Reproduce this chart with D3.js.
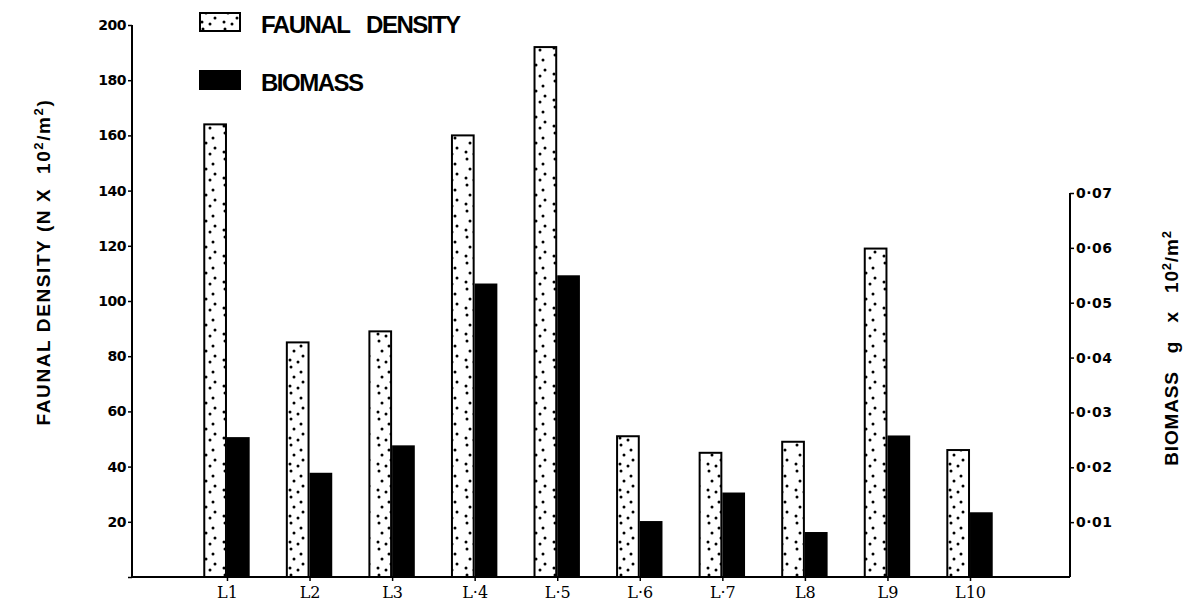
<!DOCTYPE html>
<html>
<head>
<meta charset="utf-8">
<script src="https://cdn.jsdelivr.net/npm/d3@7"></script>
<style>
  body { margin: 0; background: #fff; }
  svg { display: block; }
</style>
</head>
<body>
<div id="chart"></div>
<script>
const stations = ['L1', 'L2', 'L3', 'L4', 'L5', 'L6', 'L7', 'L8', 'L9', 'L10'];
const stationLabels = ['L1', 'L2', 'L3', 'L·4', 'L·5', 'L·6', 'L·7', 'L8', 'L9', 'L10'];
const density = [164, 85, 89, 160, 192, 51, 45, 49, 119, 46];
const biomass = [0.0255, 0.019, 0.024, 0.0535, 0.055, 0.0102, 0.0154, 0.0082, 0.0258, 0.0118];
const leftTicks = [0, 20, 40, 60, 80, 100, 120, 140, 160, 180, 200];
const leftTickLabels = ['', '20', '40', '60', '80', '100', '120', '140', '160', '180', '200'];
const rightTicks = [0.01, 0.02, 0.03, 0.04, 0.05, 0.06, 0.07];
const rightTickLabels = ['0·01', '0·02', '0·03', '0·04', '0·05', '0·06', '0·07'];

const w = 1184;
const h = 603;
const baseY = 577;

const svg = d3.select('#chart')
  .append('svg')
  .attr('width', w)
  .attr('height', h);

// stipple pattern for the density bars
const defs = svg.append('defs');
const pat = defs.append('pattern')
  .attr('id', 'dots')
  .attr('patternUnits', 'userSpaceOnUse')
  .attr('width', 22)
  .attr('height', 26);
pat.append('rect').attr('width', 22).attr('height', 26).attr('fill', '#fff');
[[5, 3], [15, 8], [8, 13], [17, 18], [4, 22], [12, 24]].forEach(function(p) {
  pat.append('circle').attr('cx', p[0]).attr('cy', p[1]).attr('r', 1.5).attr('fill', '#000');
});

const x = d3.scaleBand()
  .domain(stations)
  .range([185.7, 1011.3])
  .paddingInner(0.45)
  .paddingOuter(0.225);

const x1 = d3.scaleBand()
  .domain(['density', 'biomass'])
  .range([0, x.bandwidth()]);

const yLeft = d3.scaleLinear()
  .domain([0, 200])
  .range([baseY, 25]);

const yRight = d3.scaleLinear()
  .domain([0, 0.07])
  .range([baseY, 193]);

// density bars
svg.selectAll('rect.density')
  .data(stations)
  .enter()
  .append('rect')
  .attr('class', 'density')
  .attr('x', function(d) { return x(d) + x1('density'); })
  .attr('y', function(d, i) { return yLeft(density[i]); })
  .attr('width', x1.bandwidth() - 1)
  .attr('height', function(d, i) { return baseY - yLeft(density[i]); })
  .attr('fill', 'url(#dots)')
  .attr('stroke', '#000')
  .attr('stroke-width', 2);

// biomass bars
svg.selectAll('rect.biomass')
  .data(stations)
  .enter()
  .append('rect')
  .attr('class', 'biomass')
  .attr('x', function(d) { return x(d) + x1('biomass'); })
  .attr('y', function(d, i) { return yRight(biomass[i]); })
  .attr('width', x1.bandwidth())
  .attr('height', function(d, i) { return baseY - yRight(biomass[i]); })
  .attr('fill', '#000');

// axes
const leftAxis = d3.axisLeft(yLeft)
  .tickValues(leftTicks)
  .tickSize(4)
  .tickFormat(function(d, i) { return leftTickLabels[i]; });

const gl = svg.append('g')
  .attr('transform', 'translate(132,0)')
  .call(leftAxis);
gl.select('.domain').attr('stroke-width', 2).attr('d', 'M0,' + yLeft(200) + 'V' + baseY);

const rightAxis = d3.axisRight(yRight)
  .tickValues(rightTicks)
  .tickSize(4)
  .tickFormat(function(d, i) { return rightTickLabels[i]; });

const gr = svg.append('g')
  .attr('transform', 'translate(1070,0)')
  .call(rightAxis);
gr.select('.domain').attr('stroke-width', 2).attr('d', 'M0,' + yRight(0.07) + 'V' + baseY);

const bottomAxis = d3.axisBottom(d3.scalePoint().domain(stations).range([x(stations[0]) + x.bandwidth() / 2, x(stations[9]) + x.bandwidth() / 2]))
  .tickSize(4)
  .tickFormat(function(d, i) { return stationLabels[i]; });

const gb = svg.append('g')
  .attr('transform', 'translate(0,' + baseY + ')')
  .call(bottomAxis);
gb.select('.domain').attr('stroke-width', 2).attr('d', 'M132,0H1070');

svg.selectAll('.tick text')
  .attr('font-family', 'DejaVu Sans')
  .attr('font-weight', 'bold')
  .attr('font-size', '14px')
  .attr('fill', '#000');
gl.selectAll('.tick text').attr('dx', '1px').attr('font-size', '14px').attr('letter-spacing', '-0.5px');
gr.selectAll('.tick text').attr('dx', '-1px').attr('letter-spacing', '0.5px');
gb.selectAll('.tick text').attr('font-family', 'DejaVu Serif').attr('font-weight', 'normal').attr('font-size', '16px').attr('dy', '0.85em');
svg.selectAll('.tick line').attr('stroke-width', 1.5);

// axis titles
svg.append('text')
  .attr('transform', 'translate(50,262) rotate(-90)')
  .attr('text-anchor', 'middle')
  .attr('font-family', 'Liberation Sans')
  .attr('font-weight', 'bold')
  .attr('font-size', '19px')
  .attr('letter-spacing', '1.6px')
  .html('FAUNAL DENSITY (N X&#160; 10<tspan baseline-shift="super" font-size="13px">2</tspan>/m<tspan baseline-shift="super" font-size="13px">2</tspan>)');

svg.append('text')
  .attr('transform', 'translate(1178,348) rotate(-90)')
  .attr('text-anchor', 'middle')
  .attr('font-family', 'Liberation Sans')
  .attr('font-weight', 'bold')
  .attr('font-size', '19px')
  .attr('letter-spacing', '0.8px')
  .html('BIOMASS&#160;&#160; g&#160;&#160; x&#160;&#160; 10<tspan baseline-shift="super" font-size="13px">2</tspan>/m<tspan baseline-shift="super" font-size="13px">2</tspan>');

// legend
const legend = [
  { label: 'FAUNAL DENSITY', fill: 'url(#dots)', y: 13 },
  { label: 'BIOMASS', fill: '#000', y: 71 }
];
svg.selectAll('rect.legend')
  .data(legend)
  .enter()
  .append('rect')
  .attr('x', 200)
  .attr('y', function(d) { return d.y; })
  .attr('width', 40)
  .attr('height', 18)
  .attr('fill', function(d) { return d.fill; })
  .attr('stroke', '#000')
  .attr('stroke-width', 2);

svg.selectAll('text.legend')
  .data(legend)
  .enter()
  .append('text')
  .attr('x', 261)
  .attr('y', function(d) { return d.y + 20; })
  .attr('font-family', 'Liberation Sans')
  .attr('font-weight', 'bold')
  .attr('font-size', '24px')
  .attr('letter-spacing', '-1.5px')
  .attr('word-spacing', '12px')
  .text(function(d) { return d.label; });
</script>
</body>
</html>
